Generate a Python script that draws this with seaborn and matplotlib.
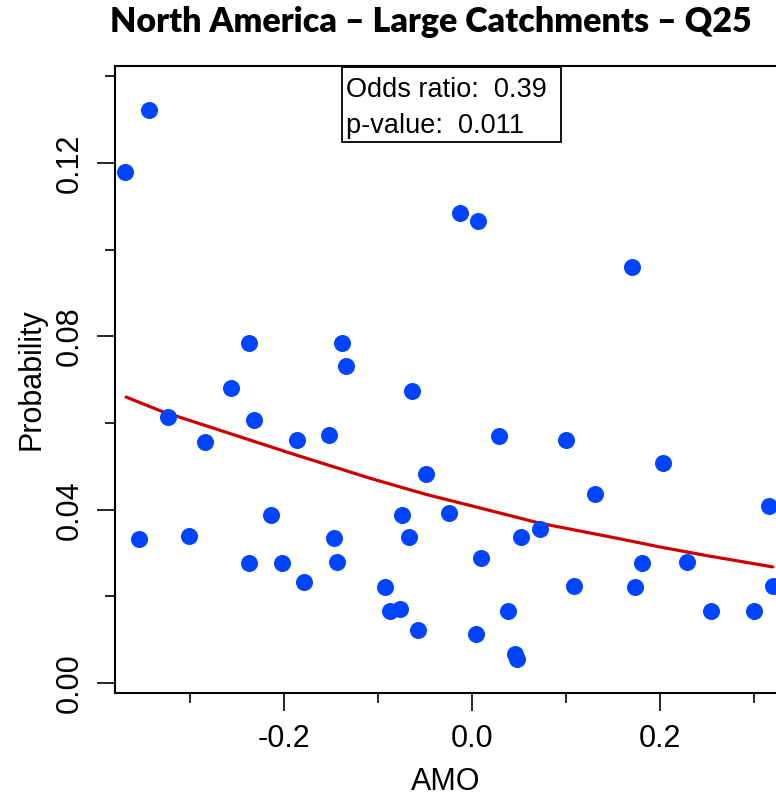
import numpy as np
import pandas as pd
import seaborn as sns
import matplotlib.pyplot as plt
from matplotlib.ticker import FixedLocator
from matplotlib.patches import Rectangle

# AMO index and event probability
amo = [-0.369, -0.344, -0.354, -0.323, -0.301, -0.284, -0.256, -0.237, -0.232, -0.237,
       -0.214, -0.202, -0.186, -0.179, -0.152, -0.147, -0.144, -0.138, -0.134, -0.093,
       -0.087, -0.077, -0.074, -0.067, -0.064, -0.057, -0.049, -0.024, -0.013, 0.004,
       0.006, 0.010, 0.029, 0.038, 0.046, 0.048, 0.052, 0.072, 0.100, 0.109,
       0.131, 0.170, 0.173, 0.181, 0.203, 0.229, 0.254, 0.300, 0.316, 0.320]
prob = [0.1179, 0.1322, 0.0332, 0.0614, 0.0339, 0.0556, 0.0681, 0.0785, 0.0607, 0.0277,
        0.0388, 0.0277, 0.0561, 0.0233, 0.0572, 0.0335, 0.0279, 0.0785, 0.0732, 0.0222,
        0.0166, 0.0171, 0.0388, 0.0337, 0.0674, 0.0122, 0.0482, 0.0392, 0.1085, 0.0113,
        0.1066, 0.0288, 0.0570, 0.0166, 0.0067, 0.0055, 0.0337, 0.0355, 0.0561, 0.0224,
        0.0436, 0.0960, 0.0222, 0.0277, 0.0508, 0.0279, 0.0166, 0.0166, 0.0408, 0.0224]

# fitted logistic curve
fit_x = [-0.368, -0.330, -0.279, -0.194, -0.109, -0.050, 0.005, 0.072, 0.157, 0.200, 0.250, 0.320]
fit_y = [0.0660, 0.0627, 0.0591, 0.0531, 0.0473, 0.0436, 0.0406, 0.0369, 0.0333, 0.0314, 0.0294, 0.0268]

title = "North America \u2013 Large Catchments \u2013 Q25"
stats_lines = ["Odds ratio:  0.39", "p-value:  0.011"]

df = pd.DataFrame({"AMO": amo, "Probability": prob})
df_fit = pd.DataFrame({"AMO": fit_x, "Probability": fit_y})

sns.set_style("ticks")
plt.rcParams["font.family"] = ["Liberation Sans", "DejaVu Sans"]
plt.rcParams["text.color"] = "black"
plt.rcParams["axes.labelcolor"] = "black"
plt.rcParams["xtick.color"] = "black"
plt.rcParams["ytick.color"] = "black"
plt.rcParams["axes.edgecolor"] = "black"

fig = plt.figure(figsize=(7.76, 8.01), dpi=100)
ax = fig.add_axes([0.1482, 0.1348, 0.8518, 0.7828])

sns.scatterplot(data=df, x="AMO", y="Probability", ax=ax, color="#0044ff",
                s=150, linewidth=0, zorder=3)
sns.lineplot(data=df_fit, x="AMO", y="Probability", ax=ax, color="#cc0000",
             linewidth=2.3, zorder=2)

ax.set_xlim(-0.3798, 0.3234)
ax.set_ylim(-0.0023, 0.1424)

ax.set_xticks([-0.2, 0.0, 0.2])
ax.set_xticklabels(["-0.2", "0.0", "0.2"])
ax.xaxis.set_minor_locator(FixedLocator([-0.3, -0.1, 0.1, 0.3]))
ax.set_yticks([0.0, 0.04, 0.08, 0.12])
ax.set_yticklabels(["0.00", "0.04", "0.08", "0.12"])
ax.yaxis.set_minor_locator(FixedLocator([0.02, 0.06, 0.10, 0.14]))

ax.tick_params(which="major", length=13, width=1.2, labelsize=22, pad=9, color="black")
ax.tick_params(which="minor", length=7, width=1.2, color="black")
ax.tick_params(axis="y", labelrotation=90)
for lab in ax.get_yticklabels():
    lab.set_va("center")

ax.spines["right"].set_visible(False)
for side in ["left", "top", "bottom"]:
    ax.spines[side].set_linewidth(1.5)

ax.set_xlabel("AMO", fontsize=22, labelpad=10)
ax.set_ylabel("Probability", fontsize=22, labelpad=6)

# stats box overlapping the top spine
box = Rectangle((0.3434, 0.8788), 0.3313, 0.1196, transform=ax.transAxes,
                facecolor="white", edgecolor="black", linewidth=1.3,
                clip_on=False, zorder=5)
ax.add_patch(box)
ax.text(0.350, 0.961, stats_lines[0], transform=ax.transAxes, fontsize=19.5,
        va="center", ha="left", zorder=6)
ax.text(0.350, 0.905, stats_lines[1], transform=ax.transAxes, fontsize=19.5,
        va="center", ha="left", zorder=6)

fig.text(0.555, 0.972, title, ha="center", va="center", fontsize=24.5,
         fontweight="heavy", family=["Lato", "DejaVu Sans"])

fig.savefig("out.png", dpi=100)
